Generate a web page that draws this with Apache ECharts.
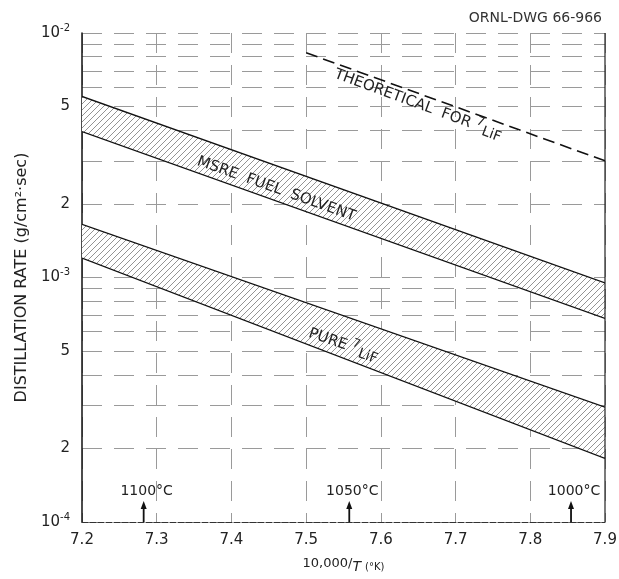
<!DOCTYPE html>
<html>
<head>
<meta charset="utf-8">
<script src="https://cdn.jsdelivr.net/npm/echarts@6/dist/echarts.min.js"></script>
<style>
  html, body { margin: 0; padding: 0; background: #fff; }
  #chart { width: 619px; height: 579px; }
</style>
</head>
<body>
<div id="chart"></div>
<script>
// data (x = 10,000/T, y = g/cm2-sec)
const xTicks = [7.2, 7.3, 7.4, 7.5, 7.6, 7.7, 7.8, 7.9]
const yLabelValues = [1e-4, 2e-4, 5e-4, 1e-3, 2e-3, 5e-3, 1e-2]
const yGridValues = [1e-4, 2e-4, 3e-4, 4e-4, 5e-4, 6e-4, 7e-4, 8e-4, 9e-4,
  1e-3, 2e-3, 3e-3, 4e-3, 5e-3, 6e-3, 7e-3, 8e-3, 9e-3, 1e-2]

const bandX = [7.2, 7.9]
const msreUpper = [5.5e-3, 9.5e-4]
const msreLower = [3.95e-3, 6.8e-4]
const pureUpper = [1.65e-3, 2.95e-4]
const pureLower = [1.2e-3, 1.82e-4]

const theoX = [7.5, 7.9]
const theoY = [8.3e-3, 3.0e-3]

const tempsC = [1100, 1050, 1000]

// hatch fill
function hatch() {
  const c = document.createElement('canvas')
  const s = 6
  c.width = s; c.height = s
  const ctx = c.getContext('2d')
  ctx.fillStyle = '#fff'
  ctx.fillRect(0, 0, s, s)
  ctx.strokeStyle = '#666'
  ctx.lineWidth = 0.7
  ctx.beginPath()
  ctx.moveTo(0, s); ctx.lineTo(s, 0)
  ctx.moveTo(-1, 1); ctx.lineTo(1, -1)
  ctx.moveTo(s - 1, s + 1); ctx.lineTo(s + 1, s - 1)
  ctx.stroke()
  return c
}
const hatchPattern = { image: hatch(), repeat: 'repeat' }

function bandSeries(name, upper, lower) {
  return {
    type: 'custom',
    name: name,
    data: [0],
    clip: true,
    z: 3,
    renderItem: function (params, api) {
      const top = bandX.map((x, i) => api.coord([x, upper[i]]))
      const bot = bandX.map((x, i) => api.coord([x, lower[i]])).reverse()
      return {
        type: 'group',
        children: [
          { type: 'polygon', shape: { points: top.concat(bot) }, style: { fill: hatchPattern } },
          { type: 'polyline', shape: { points: top }, style: { stroke: '#111', lineWidth: 1.3, fill: null } },
          { type: 'polyline', shape: { points: bot }, style: { stroke: '#111', lineWidth: 1.3, fill: null } }
        ]
      }
    }
  }
}

// band / line captions, anchored to data coordinates
const notes = [
  { x: 7.46, y: 2.3e-3, rot: -19.6, text: 'MSRE  FUEL  SOLVENT' },
  { x: 7.65, y: 5.1e-3, rot: -20.2, text: 'THEORETICAL  FOR {sup|7}{low|LiF}' },
  { x: 7.55, y: 5.3e-4, rot: -19.1, text: 'PURE {sup|7}{low|LiF}' }
]
const noteRich = {
  sup: { fontFamily: 'DejaVu Sans', fontSize: 12, fill: '#222', padding: [0, 1, 10, 0] },
  low: { fontFamily: 'DejaVu Sans', fontSize: 14, fill: '#222', padding: [6, 0, 0, 0] }
}

const chart = echarts.init(document.getElementById('chart'))

const gridLine = { show: true, lineStyle: { color: '#9a9a9a', width: 1, type: [20, 12] } }

const option = {
  animation: false,
  backgroundColor: '#fff',
  title: {
    text: 'ORNL-DWG 66-966',
    right: 12, top: 6,
    textStyle: { fontFamily: 'DejaVu Sans', fontWeight: 'normal', fontSize: 14, color: '#333' }
  },
  grid: { left: 82, right: 14, top: 33, bottom: 57, outerBoundsMode: 'none', containLabel: false },
  xAxis: {
    type: 'value',
    min: 7.2, max: 7.9, interval: 0.1,
    name: '10,000/{it|T} {s|(°K)}',
    nameLocation: 'middle',
    nameGap: 32,
    nameTextStyle: {
      fontFamily: 'DejaVu Sans', fontSize: 13, color: '#222',
      rich: {
        it: { fontStyle: 'italic', fontSize: 14, fontFamily: 'DejaVu Sans', color: '#222', padding: [6, 0, 0, 0] },
        s: { fontSize: 10, fontFamily: 'DejaVu Sans', color: '#222', padding: [6, 0, 0, 0] }
      }
    },
    axisLine: { show: true, lineStyle: { color: '#333', width: 1.2, type: [6, 2] } },
    axisTick: { show: false },
    axisLabel: {
      margin: 11,
      fontFamily: 'DejaVu Sans', fontSize: 15, color: '#222',
      formatter: v => v.toFixed(1)
    },
    splitLine: gridLine
  },
  yAxis: {
    type: 'log',
    logBase: 10,
    min: 1e-4, max: 1e-2,
    name: 'DISTILLATION RATE (g/cm²·sec)',
    nameLocation: 'middle',
    nameGap: 52,
    nameTextStyle: { fontFamily: 'DejaVu Sans', fontSize: 16, color: '#222' },
    axisLine: { show: true, lineStyle: { color: '#111', width: 1.5 } },
    axisTick: { show: false, customValues: yGridValues },
    axisLabel: {
      customValues: yLabelValues,
      margin: 12,
      fontFamily: 'DejaVu Sans', fontSize: 15, color: '#222',
      formatter: function (v) {
        const e = Math.round(Math.log10(v))
        if (Math.abs(v - Math.pow(10, e)) < 1e-12) return '10{sup|' + e + '}'
        return String(Math.round(v / Math.pow(10, Math.floor(Math.log10(v)))))
      },
      rich: {
        sup: { fontSize: 10, fontFamily: 'DejaVu Sans', color: '#222', verticalAlign: 'top', padding: [0, 0, 10, 0] }
      }
    },
    splitLine: gridLine
  },
  series: [
    bandSeries('MSRE fuel solvent', msreUpper, msreLower),
    bandSeries('Pure 7LiF', pureUpper, pureLower),
    {
      type: 'line',
      name: 'Theoretical',
      data: theoX.map((x, i) => [x, theoY[i]]),
      symbol: 'none',
      lineStyle: { color: '#111', width: 1.6, type: [12, 6] },
      z: 5
    },
    {
      // right frame at x = 7.9
      type: 'line',
      data: [[7.9, 1e-4], [7.9, 1e-2]],
      symbol: 'none',
      lineStyle: { color: '#222', width: 1.2 },
      silent: true,
      z: 4
    },
    {
      // temperature arrows along the x axis
      type: 'custom',
      data: tempsC.map(t => [10000 / (t + 273.15), t]),
      clip: false,
      z: 6,
      renderItem: function (params, api) {
        const p = api.coord([api.value(0), 1e-4])
        return {
          type: 'group',
          children: [
            { type: 'line', shape: { x1: p[0], y1: p[1], x2: p[0], y2: p[1] - 14 }, style: { stroke: '#111', lineWidth: 1.8 } },
            { type: 'polygon', shape: { points: [[p[0] - 3, p[1] - 13], [p[0] + 3, p[1] - 13], [p[0], p[1] - 21]] }, style: { fill: '#111' } },
            { type: 'text', style: { x: p[0] + 3, y: p[1] - 31, text: api.value(1) + '°C', align: 'center', verticalAlign: 'middle', fontFamily: 'DejaVu Sans', fontSize: 14, fill: '#222' } }
          ]
        }
      }
    },
    {
      type: 'custom',
      data: notes.map((n, i) => [n.x, n.y, i]),
      clip: false,
      z: 6,
      renderItem: function (params, api) {
        const n = notes[api.value(2)]
        const p = api.coord([n.x, n.y])
        return {
          type: 'text',
          x: p[0], y: p[1],
          rotation: n.rot * Math.PI / 180,
          style: {
            text: n.text, align: 'center', verticalAlign: 'middle',
            fontFamily: 'DejaVu Sans', fontSize: 15, fill: '#222',
            rich: noteRich
          }
        }
      }
    }
  ]
}

chart.setOption(option)
</script>
</body>
</html>
